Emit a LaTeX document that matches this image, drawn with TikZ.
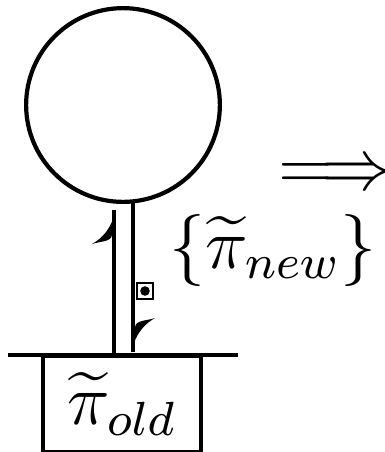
\documentclass[tikz,border=0pt]{standalone}
\usepackage{amsmath}
\usepackage{tikz}
\usetikzlibrary{calc,positioning}

\begin{document}
\begin{tikzpicture}[x=0.1667pt, y=-0.1667pt, font=\large,
  harpoon/.pic={
    \fill (1,0) .. controls (0,10) and (-6,25) .. (-22,34)
      .. controls (-13,31) and (-3,32) .. (-2,25) -- (2,0) -- cycle;
  }]
  \useasboundingbox (0,0) rectangle (385,452);

  % ---- styles ------------------------------------------------
  \tikzstyle{strand}=[line width=0.7pt]
  \tikzstyle{frame}=[draw, line width=0.55pt, inner sep=0pt]

  % ---- loop at the top ---------------------------------------
  \node[strand, draw, circle, inner sep=0pt, minimum size=32.3pt] (ring) at (123,105) {};

  % ---- ground line and the old box ---------------------------
  \coordinate (gleft)  at (8,355);
  \coordinate (gright) at (238,355);
  \draw[strand] (gleft) -- (gright);
  \node[frame, minimum width=26.3pt, minimum height=15.8pt, anchor=north]
    (old) at (122,355) {$\widetilde{\pi}_{old}$};

  % ---- the two strands with their barbs ----------------------
  \coordinate (lbot) at (114,355);
  \coordinate (ltop) at (114,210);
  \coordinate (rtop) at (133,202);
  \coordinate (rbot) at (133,352);
  \draw[strand] (lbot) -- (ltop);
  \draw[strand] (rtop) -- (rbot);
  \pic at (ltop) {harpoon};
  \pic[rotate=180] at (rbot) {harpoon};

  % ---- small marker on the right strand ----------------------
  \node[frame, line width=0.35pt, minimum size=2.7pt] (mark) at (145,291) {};
  \node[circle, fill, inner sep=0pt, minimum size=1.6pt] (dot) at (mark) {};

  % ---- labels ------------------------------------------------
  \node (newset)  at (273,250) {$\{\widetilde{\pi}_{new}\}$};
  \node (implies) at (336,176) {$\Longrightarrow$};

\end{tikzpicture}
\end{document}
